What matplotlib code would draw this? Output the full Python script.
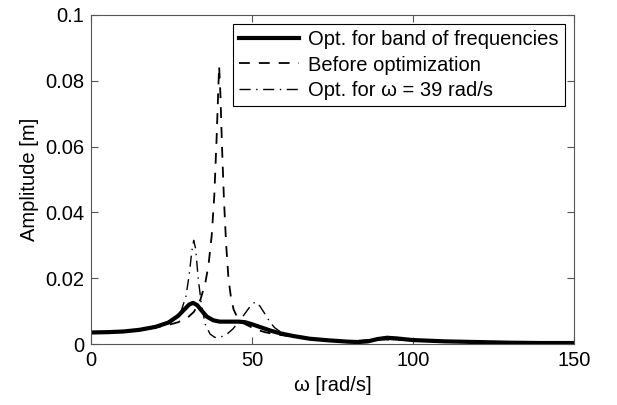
import numpy as np
from matplotlib import pyplot as plt

plt.rcParams['font.family'] = ['Liberation Sans', 'DejaVu Sans']

# Opt. for band of frequencies
w_band = [0, 5, 10, 15, 20, 24, 27, 29, 30.5, 31.7, 33, 34.5, 36, 38, 40, 43, 46, 48, 50, 53,
          56, 59, 63, 68, 74, 80, 83, 86, 89, 92, 95, 100, 110, 120, 130, 140, 150]
a_band = [0.0035, 0.0036, 0.0038, 0.0043, 0.0052, 0.0065, 0.0085, 0.0105, 0.0120, 0.0125, 0.0118,
          0.0100, 0.0083, 0.0072, 0.0068, 0.0068, 0.0068, 0.0066, 0.0060, 0.0050, 0.0040, 0.0032,
          0.0024, 0.0016, 0.0011, 0.0007, 0.0006, 0.0008, 0.0015, 0.0019, 0.0017, 0.0012, 0.0008,
          0.0006, 0.0004, 0.0003, 0.0003]

# Before optimization
w_before = [0, 5, 10, 15, 20, 24, 27, 30, 32, 34, 35.5, 36.5, 37.5, 38.3, 39, 39.5, 39.8, 40.2,
            40.7, 41.3, 42, 42.7, 43.5, 44.3, 45.5, 47, 49, 51, 54, 57, 60, 65, 70, 80, 90, 100, 120, 150]
a_before = [0.0034, 0.0035, 0.0037, 0.0042, 0.0050, 0.0058, 0.0066, 0.0080, 0.0098, 0.0135, 0.0185,
            0.0240, 0.0330, 0.0450, 0.0620, 0.0760, 0.0845, 0.0760, 0.0600, 0.0440, 0.0300, 0.0200,
            0.0140, 0.0105, 0.0080, 0.0065, 0.0055, 0.0045, 0.0036, 0.0030, 0.0026, 0.0019, 0.0014,
            0.0008, 0.0014, 0.0011, 0.0006, 0.0003]

# Opt. for omega = 39 rad/s
w_39 = [0, 5, 10, 15, 20, 24, 26, 28, 29.5, 30.5, 31.3, 31.9, 32.5, 33.3, 34.3, 35.5, 37, 38.5,
        40, 42, 44, 46, 48, 49.5, 51, 52.5, 54, 55.5, 57, 59, 62, 66, 70, 80, 90, 100, 120, 150]
a_39 = [0.0035, 0.0036, 0.0038, 0.0043, 0.0052, 0.0062, 0.0075, 0.0100, 0.0145, 0.0210, 0.0280,
        0.0315, 0.0290, 0.0200, 0.0120, 0.0060, 0.0030, 0.0020, 0.0020, 0.0028, 0.0045, 0.0068,
        0.0095, 0.0115, 0.0128, 0.0115, 0.0092, 0.0068, 0.0050, 0.0036, 0.0026, 0.0018, 0.0013,
        0.0007, 0.0015, 0.0011, 0.0006, 0.0003]

fig = plt.figure(figsize=(6.17, 4.05), dpi=100)
ax = fig.add_axes([0.1475, 0.1506, 0.7825, 0.8124])

ax.plot(w_band, a_band, 'k-', linewidth=3, label='Opt. for band of frequencies')
ax.plot(w_before, a_before, 'k--', linewidth=1.3, dashes=(6, 5), label='Before optimization')
ax.plot(w_39, a_39, 'k-.', linewidth=1.0, dashes=(8, 4, 1, 4), label='Opt. for ω = 39 rad/s')

ax.set_xlim(0, 150)
ax.set_ylim(0, 0.1)
ax.set_xticks([0, 50, 100, 150])
ax.set_yticks([0, 0.02, 0.04, 0.06, 0.08, 0.1])
ax.set_yticklabels(['0', '0.02', '0.04', '0.06', '0.08', '0.1'])
ax.tick_params(direction='in', top=True, right=True, labelsize=14.5, length=5, color='#555555', pad=5)
for s in ax.spines.values():
    s.set_color('#555555')
    s.set_linewidth(0.8)

ax.set_xlabel('ω [rad/s]', fontsize=14.5)
ax.set_ylabel('Amplitude [m]', fontsize=14.5)

leg = ax.legend(loc='upper right', fontsize=14.5, fancybox=False, framealpha=1,
                edgecolor='black', handlelength=3.0, borderpad=0.3, labelspacing=0.32,
                handletextpad=0.45, borderaxespad=0.45)
leg.get_frame().set_linewidth(0.8)

plt.savefig('out.png', dpi=100)
